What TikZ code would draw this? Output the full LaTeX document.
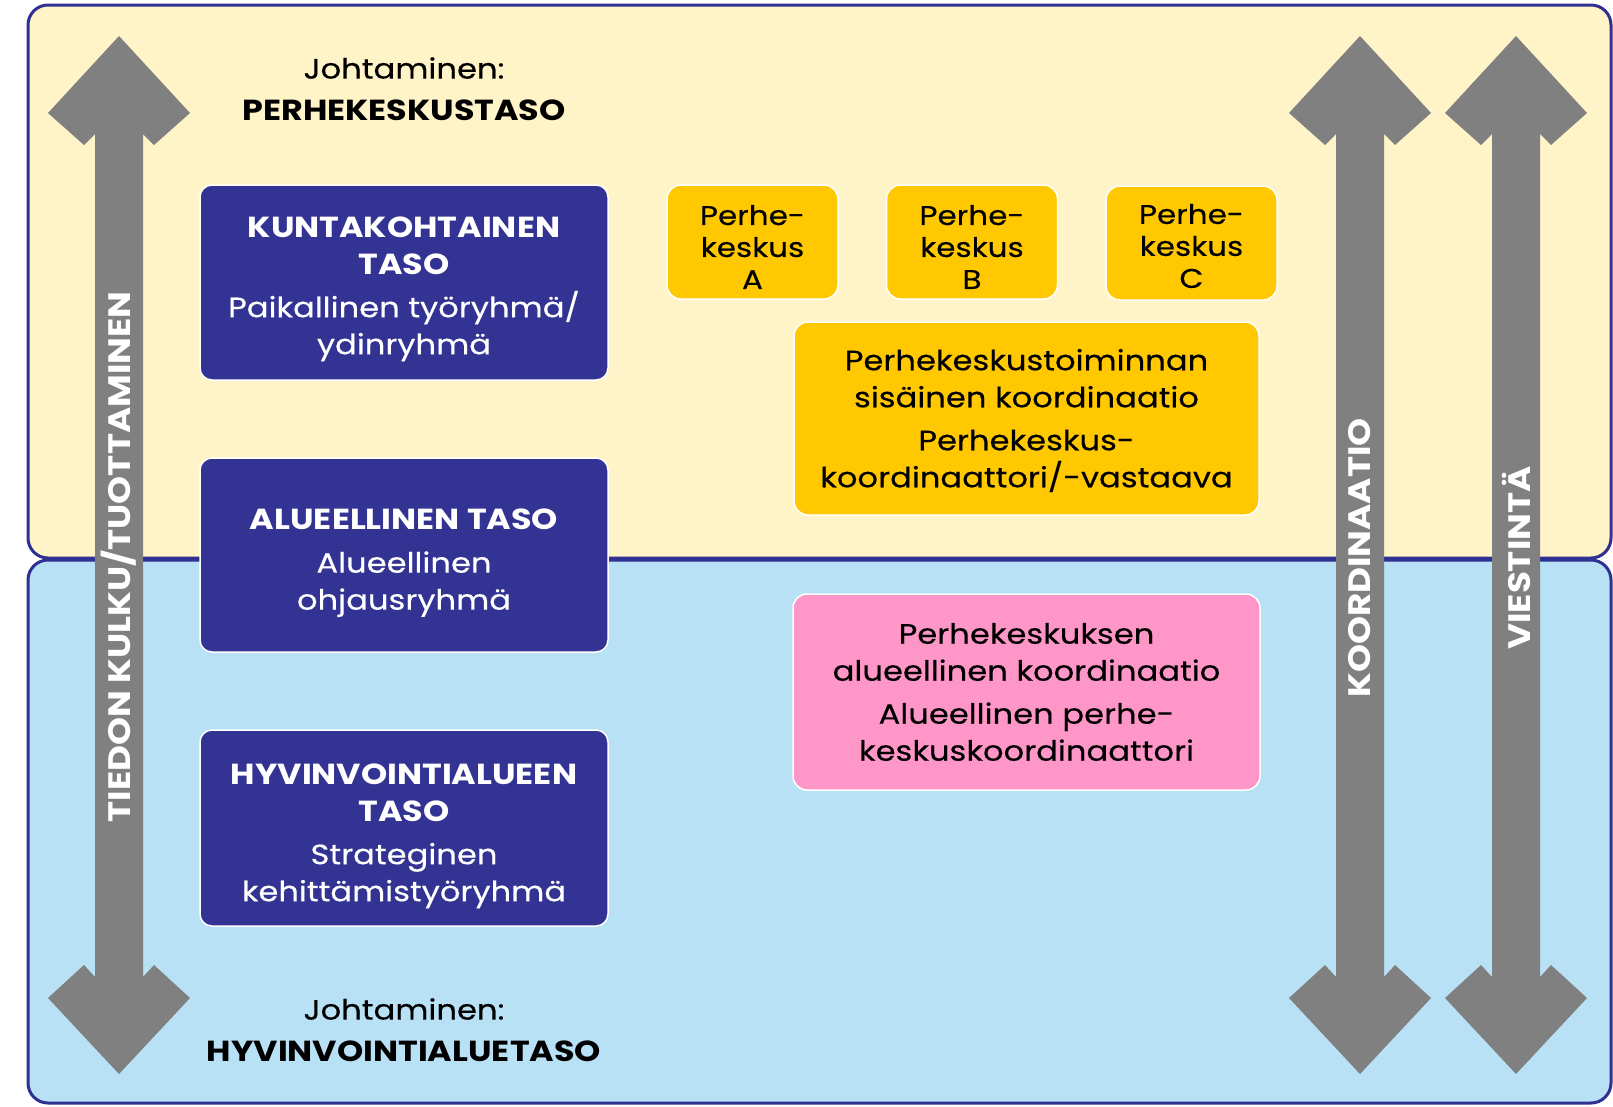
\documentclass[tikz,border=0pt]{standalone}
\usepackage{fontspec}
\setmainfont{Poppins}[FakeStretch=1.15, UprightFeatures={FakeBold=0.35}]
\definecolor{frameblue}{RGB}{46,49,146}
\definecolor{cream}{RGB}{255,243,200}
\definecolor{skyblue}{RGB}{184,225,245}
\definecolor{indigo}{RGB}{51,51,147}
\definecolor{gold}{RGB}{255,200,0}
\definecolor{rose}{RGB}{255,150,200}
\definecolor{arrowgray}{RGB}{128,128,128}
\newcommand\dblarrowshape[1]{%
  \fill[arrowgray] (#1,36) -- (#1+71,113) -- (#1+35,145) -- (#1+24,134) -- (#1+24,977) -- (#1+35,965) -- (#1+71,998) -- (#1,1074) -- (#1-71,998) -- (#1-35,965) -- (#1-24,977) -- (#1-24,134) -- (#1-35,145) -- (#1-71,113) -- cycle;}
\newcommand\bt[1]{{\fontsize{29}{37}\selectfont\bfseries #1}}
\tikzset{
  panel/.style={draw=frameblue, line width=3pt, rounded corners=20pt},
  darkbox/.style={fill=indigo, draw=white, line width=1.5pt, rounded corners=12pt, minimum width=408pt},
  darktext/.style={text=white, align=center, font=\fontsize{28}{37}\selectfont},
  yelbox/.style={fill=gold, draw=white, line width=1.5pt, rounded corners=14pt},
  smalltext/.style={text=black, align=center, font=\fontsize{27}{32}\selectfont},
  pinkbox/.style={fill=rose, draw=white, line width=1.5pt, rounded corners=14pt},
  boxtext/.style={text=black, align=center, font=\fontsize{28}{37}\selectfont},
  arrowtext/.style={text=white, font=\bfseries\fontsize{31}{34}\selectfont, rotate=90},
  headtext/.style={align=center, text=black, font=\fontsize{28}{42}\selectfont}
}
\begin{document}
\begin{tikzpicture}[x=1pt,y=-1pt]
\useasboundingbox (0,0) rectangle (1613,1106);
\fill[white] (0,0) rectangle (1613,1106);
% panels
\draw[panel, fill=cream] (28,5) rectangle (1611,558);
\draw[panel, fill=skyblue] (28,560) rectangle (1611,1103);
% arrows
\dblarrowshape{119}
\dblarrowshape{1360}
\dblarrowshape{1516}
\node[arrowtext] (tiedon) at (119,557) {TIEDON KULKU/TUOTTAMINEN};
\node[arrowtext] (koord) at (1360,558) {KOORDINAATIO};
\node[arrowtext] (viest) at (1516,558) {VIESTINTÄ};
% headings
\node[headtext] (htop) at (404,89) {Johtaminen:\\\bt{PERHEKESKUSTASO}};
\node[headtext] (hbot) at (404,1030) {Johtaminen:\\\bt{HYVINVOINTIALUETASO}};
% dark boxes
\node[darkbox, minimum height=195pt] (kunta) at (404,282.5) {};
\node[darktext] (kuntat) at (404,289) {\bt{KUNTAKOHTAINEN}\\\bt{TASO}\\[6pt]Paikallinen työryhmä/\\ydinryhmä};
\node[darkbox, minimum height=194pt] (alue) at (404,555) {};
\node[darktext] (aluet) at (404,563) {\bt{ALUEELLINEN TASO}\\[6pt]Alueellinen\\ohjausryhmä};
\node[darkbox, minimum height=196pt] (hyvin) at (404,828) {};
\node[darktext] (hyvint) at (404,836) {\bt{HYVINVOINTIALUEEN}\\\bt{TASO}\\[6pt]Strateginen\\kehittämistyöryhmä};
% small yellow boxes
\node[yelbox, minimum width=171pt, minimum height=114pt] (pkA) at (752.5,242) {};
\node[smalltext] (pkAt) at (752.5,247) {Perhe-\\keskus\\A};
\node[yelbox, minimum width=171pt, minimum height=114pt] (pkB) at (972,242) {};
\node[smalltext] (pkBt) at (972,247) {Perhe-\\keskus\\B};
\node[yelbox, minimum width=171pt, minimum height=114pt] (pkC) at (1191.5,243) {};
\node[smalltext] (pkCt) at (1191.5,246) {Perhe-\\keskus\\C};
% big yellow box
\node[yelbox, minimum width=465pt, minimum height=193pt] (sisainen) at (1026.5,418.5) {};
\node[boxtext] (sisainent) at (1026.5,420.5) {Perhekeskustoiminnan\\sisäinen koordinaatio\\[6pt]Perhekeskus-\\koordinaattori/-vastaava};
% pink box
\node[pinkbox, minimum width=467pt, minimum height=196pt] (alueko) at (1026.5,692) {};
\node[boxtext] (aluekot) at (1026.5,692) {Perhekeskuksen\\alueellinen koordinaatio\\[6pt]Alueellinen perhe-\\keskuskoordinaattori};
\end{tikzpicture}
\end{document}
